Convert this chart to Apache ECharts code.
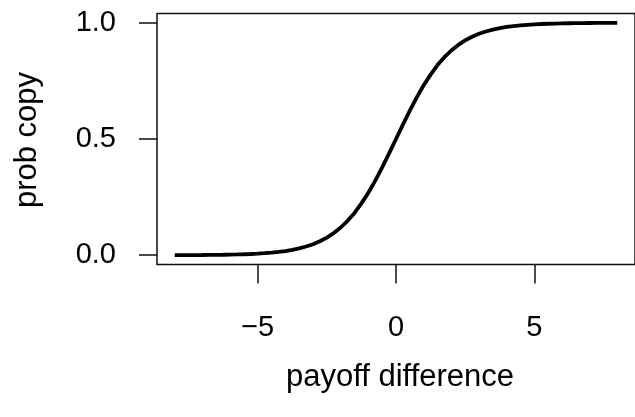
<!DOCTYPE html>
<html><head><meta charset="utf-8">
<script src="https://cdn.jsdelivr.net/npm/echarts@6/dist/echarts.min.js"></script>
<style>html,body{margin:0;padding:0;background:#fff}#c{width:635px;height:417px}</style>
</head><body><div id="c"></div>
<script>
// payoff difference values (x) and read-off probability of copying (y)
const payoffDiff = [-8,-7.75,-7.5,-7.25,-7,-6.75,-6.5,-6.25,-6,-5.75,-5.5,-5.25,-5,-4.75,-4.5,-4.25,-4,-3.75,-3.5,-3.25,-3,-2.75,-2.5,-2.25,-2,-1.75,-1.5,-1.25,-1,-0.75,-0.5,-0.25,0,0.25,0.5,0.75,1,1.25,1.5,1.75,2,2.25,2.5,2.75,3,3.25,3.5,3.75,4,4.25,4.5,4.75,5,5.25,5.5,5.75,6,6.25,6.5,6.75,7,7.25,7.5,7.75,8];
const probCopy = [0.0003,0.0004,0.0006,0.0007,0.0009,0.0012,0.0015,0.0019,0.0025,0.0032,0.0041,0.0052,0.0067,0.0086,0.011,0.0141,0.018,0.023,0.0293,0.0373,0.0474,0.0601,0.0759,0.0953,0.1192,0.148,0.182,0.223,0.269,0.321,0.378,0.438,0.5,0.562,0.622,0.679,0.731,0.777,0.818,0.852,0.8808,0.9047,0.9241,0.9399,0.9526,0.9627,0.9707,0.977,0.982,0.9859,0.989,0.9914,0.9933,0.9948,0.9959,0.9968,0.9975,0.9981,0.9985,0.9988,0.9991,0.9993,0.9994,0.9996,0.9997];
const xTicks = [-5, 0, 5];
const yTicks = [0, 0.5, 1];
const yTickLabels = ['0.0', '0.5', '1.0'];
const xTitle = 'payoff difference';
const yTitle = 'prob copy';

const FONT = 'Liberation Sans, Arial, Helvetica, sans-serif';
const FS = 29;
const FT = 31;
const chart = echarts.init(document.getElementById('c'), null, {renderer: 'canvas'});
chart.setOption({
  animation: false,
  backgroundColor: '#fff',
  grid: {left: 157, top: 13.5, width: 488, height: 251, show: true, borderColor: '#111', borderWidth: 1.5, backgroundColor: 'transparent'},
  xAxis: {
    type: 'value', min: -8.64, max: 8.64,
    splitLine: {show: false},
    axisLine: {show: false, onZero: false},
    axisTick: {show: true, inside: false, length: 19, customValues: xTicks, lineStyle: {color: '#111', width: 1.5}},
    axisLabel: {customValues: xTicks, margin: 49, fontFamily: FONT, fontSize: FS, color: '#000',
      formatter: v => String(v).replace('-', '\u2212')}
  },
  yAxis: {
    type: 'value', min: -0.04, max: 1.04,
    splitLine: {show: false},
    axisLine: {show: false, onZero: false},
    axisTick: {show: true, inside: false, length: 18, customValues: yTicks, lineStyle: {color: '#111', width: 1.5}},
    axisLabel: {customValues: yTicks, margin: 41, fontFamily: FONT, fontSize: FS, color: '#000',
      formatter: v => { const i = yTicks.indexOf(v); return i >= 0 ? yTickLabels[i] : ''; }}
  },
  graphic: [
    {type: 'text', x: 400, y: 377, style: {text: xTitle, font: FT + 'px ' + FONT, fill: '#000', align: 'center', verticalAlign: 'middle'}},
    {type: 'text', x: 27, y: 140, rotation: Math.PI / 2, style: {text: yTitle, font: FT + 'px ' + FONT, fill: '#000', align: 'center', verticalAlign: 'middle'}}
  ],
  series: [{
    type: 'line',
    data: payoffDiff.map((x, i) => [x, probCopy[i]]),
    showSymbol: false,
    smooth: false,
    lineStyle: {color: '#000', width: 3.8},
    clip: true
  }]
});
</script></body></html>
